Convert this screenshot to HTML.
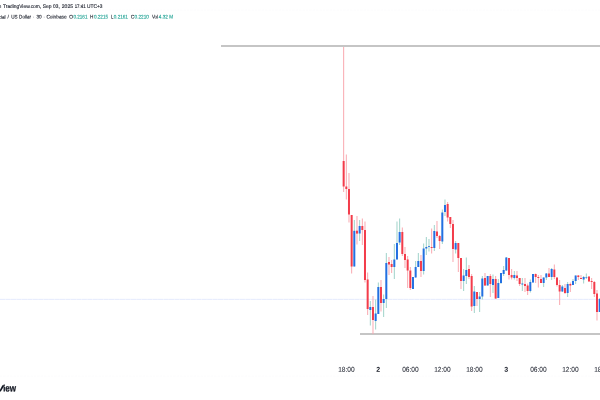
<!DOCTYPE html>
<html lang="en">
<head>
<meta charset="utf-8">
<title>World Liberty Financial / US Dollar chart</title>
<style>
html,body{margin:0;padding:0;background:#fff;}
body{width:600px;height:400px;overflow:hidden;position:relative;font-family:"Liberation Sans",sans-serif;}
svg{position:absolute;left:0;top:0;display:block;}
text{font-family:"Liberation Sans",sans-serif;}
.h{font-size:5.2px;fill:#262a35;stroke:#262a35;stroke-width:0.14px;}
.h.d{fill:#6a6d78;stroke:none;}
.h.v{fill:#23a496;stroke:#23a496;}
.ax{font-size:7px;fill:#30343f;stroke:#30343f;stroke-width:0.1px;}
.ax.b{font-weight:bold;fill:#131722;stroke:none;}
.lg2{font-size:10.0px !important;}
text{text-rendering:geometricPrecision;}
.logo{font-size:9.2px;font-weight:bold;fill:#131722;stroke:#131722;stroke-width:0.25px;}
</style>
</head>
<body>
<svg width="600" height="400" viewBox="0 0 600 400">
<rect width="600" height="400" fill="#ffffff"/>
<line x1="0" y1="10.1" x2="600" y2="10.1" stroke="#f8f8fa" stroke-width="0.6" stroke-dasharray="2 1.4"/>
<line x1="0" y1="376.1" x2="600" y2="376.1" stroke="#f8f8fa" stroke-width="0.6" stroke-dasharray="2 1.4"/>
<line x1="0" y1="299.35" x2="600" y2="299.35" stroke="#dde4fd" stroke-width="0.8" stroke-dasharray="5.2 0.25"/>
<rect x="221" y="45" width="379" height="2" fill="#c5c5c5"/>
<rect x="360" y="333" width="240" height="2" fill="#c5c5c5"/>
<rect x="343.15" y="47.0" width="1.0" height="145.0" fill="#f9a9b0"/>
<rect x="345.82" y="154.5" width="1.0" height="45.0" fill="#f9a9b0"/>
<rect x="348.48" y="173.0" width="1.0" height="49.5" fill="#f9a9b0"/>
<rect x="351.15" y="215.0" width="1.0" height="58.5" fill="#f9a9b0"/>
<rect x="353.82" y="220.0" width="1.0" height="46.5" fill="#9fd3ca"/>
<rect x="356.48" y="216.0" width="1.0" height="28.5" fill="#f9a9b0"/>
<rect x="359.15" y="220.0" width="1.0" height="21.0" fill="#9fd3ca"/>
<rect x="361.82" y="218.5" width="1.0" height="26.5" fill="#f9a9b0"/>
<rect x="364.48" y="221.5" width="1.0" height="61.0" fill="#f9a9b0"/>
<rect x="367.15" y="272.5" width="1.0" height="42.5" fill="#f9a9b0"/>
<rect x="369.82" y="301.0" width="1.0" height="24.5" fill="#9fd3ca"/>
<rect x="372.48" y="296.0" width="1.0" height="38.0" fill="#f9a9b0"/>
<rect x="375.15" y="299.5" width="1.0" height="30.0" fill="#9fd3ca"/>
<rect x="377.82" y="282.5" width="1.0" height="31.5" fill="#9fd3ca"/>
<rect x="380.48" y="280.0" width="1.0" height="31.5" fill="#f9a9b0"/>
<rect x="383.15" y="294.5" width="1.0" height="22.5" fill="#9fd3ca"/>
<rect x="385.82" y="253.0" width="1.0" height="55.0" fill="#9fd3ca"/>
<rect x="388.48" y="257.0" width="1.0" height="18.0" fill="#f9a9b0"/>
<rect x="391.15" y="260.0" width="1.0" height="13.0" fill="#f9a9b0"/>
<rect x="393.82" y="244.0" width="1.0" height="35.0" fill="#9fd3ca"/>
<rect x="396.48" y="221.5" width="1.0" height="38.0" fill="#9fd3ca"/>
<rect x="399.15" y="218.5" width="1.0" height="26.5" fill="#9fd3ca"/>
<rect x="401.82" y="227.5" width="1.0" height="28.5" fill="#f9a9b0"/>
<rect x="404.48" y="247.0" width="1.0" height="21.0" fill="#f9a9b0"/>
<rect x="407.15" y="256.0" width="1.0" height="32.0" fill="#f9a9b0"/>
<rect x="409.82" y="267.0" width="1.0" height="23.0" fill="#f9a9b0"/>
<rect x="412.48" y="277.0" width="1.0" height="12.0" fill="#9fd3ca"/>
<rect x="415.15" y="261.0" width="1.0" height="16.5" fill="#9fd3ca"/>
<rect x="417.82" y="253.0" width="1.0" height="14.0" fill="#9fd3ca"/>
<rect x="420.48" y="255.0" width="1.0" height="22.0" fill="#f9a9b0"/>
<rect x="423.15" y="243.5" width="1.0" height="31.0" fill="#9fd3ca"/>
<rect x="425.82" y="237.0" width="1.0" height="18.0" fill="#9fd3ca"/>
<rect x="428.48" y="239.0" width="1.0" height="12.5" fill="#9fd3ca"/>
<rect x="431.15" y="228.5" width="1.0" height="25.0" fill="#f9a9b0"/>
<rect x="433.82" y="225.0" width="1.0" height="26.0" fill="#9fd3ca"/>
<rect x="436.48" y="221.0" width="1.0" height="17.0" fill="#f9a9b0"/>
<rect x="439.15" y="235.0" width="1.0" height="14.0" fill="#f9a9b0"/>
<rect x="441.82" y="209.5" width="1.0" height="34.5" fill="#9fd3ca"/>
<rect x="444.48" y="199.5" width="1.0" height="16.5" fill="#9fd3ca"/>
<rect x="447.15" y="202.0" width="1.0" height="19.5" fill="#f9a9b0"/>
<rect x="449.82" y="217.0" width="1.0" height="11.0" fill="#f9a9b0"/>
<rect x="452.48" y="220.0" width="1.0" height="42.0" fill="#f9a9b0"/>
<rect x="455.15" y="241.0" width="1.0" height="12.5" fill="#9fd3ca"/>
<rect x="457.82" y="243.0" width="1.0" height="29.0" fill="#f9a9b0"/>
<rect x="460.48" y="258.0" width="1.0" height="31.0" fill="#f9a9b0"/>
<rect x="463.15" y="269.0" width="1.0" height="22.0" fill="#9fd3ca"/>
<rect x="465.82" y="257.5" width="1.0" height="26.5" fill="#9fd3ca"/>
<rect x="468.48" y="265.0" width="1.0" height="14.0" fill="#f9a9b0"/>
<rect x="471.15" y="274.0" width="1.0" height="37.0" fill="#f9a9b0"/>
<rect x="473.82" y="286.0" width="1.0" height="27.0" fill="#9fd3ca"/>
<rect x="476.49" y="292.0" width="1.0" height="14.0" fill="#f9a9b0"/>
<rect x="479.15" y="292.0" width="1.0" height="20.0" fill="#9fd3ca"/>
<rect x="481.82" y="276.0" width="1.0" height="23.5" fill="#9fd3ca"/>
<rect x="484.49" y="273.0" width="1.0" height="13.0" fill="#f9a9b0"/>
<rect x="487.15" y="276.0" width="1.0" height="9.5" fill="#9fd3ca"/>
<rect x="489.82" y="274.0" width="1.0" height="23.0" fill="#f9a9b0"/>
<rect x="492.49" y="274.5" width="1.0" height="18.5" fill="#9fd3ca"/>
<rect x="495.15" y="276.0" width="1.0" height="23.0" fill="#f9a9b0"/>
<rect x="497.82" y="279.0" width="1.0" height="19.0" fill="#9fd3ca"/>
<rect x="500.49" y="273.0" width="1.0" height="11.0" fill="#9fd3ca"/>
<rect x="503.15" y="266.0" width="1.0" height="10.0" fill="#9fd3ca"/>
<rect x="505.82" y="257.0" width="1.0" height="14.0" fill="#9fd3ca"/>
<rect x="508.49" y="258.0" width="1.0" height="21.5" fill="#f9a9b0"/>
<rect x="511.15" y="269.0" width="1.0" height="10.5" fill="#f9a9b0"/>
<rect x="513.82" y="271.0" width="1.0" height="8.5" fill="#9fd3ca"/>
<rect x="516.49" y="271.0" width="1.0" height="10.0" fill="#f9a9b0"/>
<rect x="519.15" y="278.0" width="1.0" height="8.0" fill="#f9a9b0"/>
<rect x="521.82" y="278.0" width="1.0" height="13.0" fill="#9fd3ca"/>
<rect x="524.49" y="278.0" width="1.0" height="14.0" fill="#f9a9b0"/>
<rect x="527.15" y="283.5" width="1.0" height="11.5" fill="#f9a9b0"/>
<rect x="529.82" y="279.5" width="1.0" height="13.0" fill="#9fd3ca"/>
<rect x="532.49" y="274.0" width="1.0" height="8.5" fill="#9fd3ca"/>
<rect x="535.15" y="273.5" width="1.0" height="9.5" fill="#f9a9b0"/>
<rect x="537.82" y="275.0" width="1.0" height="12.5" fill="#f9a9b0"/>
<rect x="540.49" y="275.0" width="1.0" height="8.0" fill="#f9a9b0"/>
<rect x="543.15" y="277.5" width="1.0" height="9.5" fill="#9fd3ca"/>
<rect x="545.82" y="273.0" width="1.0" height="7.0" fill="#9fd3ca"/>
<rect x="548.49" y="268.0" width="1.0" height="9.0" fill="#f9a9b0"/>
<rect x="551.15" y="268.0" width="1.0" height="12.0" fill="#9fd3ca"/>
<rect x="553.82" y="264.5" width="1.0" height="14.5" fill="#f9a9b0"/>
<rect x="556.49" y="277.5" width="1.0" height="9.0" fill="#f9a9b0"/>
<rect x="559.15" y="280.0" width="1.0" height="25.0" fill="#f9a9b0"/>
<rect x="561.82" y="285.0" width="1.0" height="7.0" fill="#9fd3ca"/>
<rect x="564.49" y="284.0" width="1.0" height="10.0" fill="#f9a9b0"/>
<rect x="567.15" y="282.0" width="1.0" height="15.0" fill="#9fd3ca"/>
<rect x="569.82" y="282.5" width="1.0" height="9.5" fill="#f9a9b0"/>
<rect x="572.49" y="279.0" width="1.0" height="6.0" fill="#9fd3ca"/>
<rect x="575.15" y="275.5" width="1.0" height="8.5" fill="#9fd3ca"/>
<rect x="577.82" y="275.0" width="1.0" height="5.0" fill="#f9a9b0"/>
<rect x="580.49" y="275.0" width="1.0" height="4.0" fill="#f9a9b0"/>
<rect x="583.15" y="276.0" width="1.0" height="7.5" fill="#9fd3ca"/>
<rect x="585.82" y="273.5" width="1.0" height="5.5" fill="#9fd3ca"/>
<rect x="588.49" y="276.5" width="1.0" height="5.0" fill="#f9a9b0"/>
<rect x="591.15" y="278.0" width="1.0" height="11.0" fill="#f9a9b0"/>
<rect x="593.82" y="281.0" width="1.0" height="16.0" fill="#f9a9b0"/>
<rect x="596.49" y="290.0" width="1.0" height="30.5" fill="#f9a9b0"/>
<rect x="599.15" y="298.0" width="1.0" height="14.0" fill="#9fd3ca"/>
<rect x="342.65" y="161.0" width="2.0" height="25.5" fill="#f33c4b"/>
<rect x="345.32" y="186.5" width="2.0" height="2.5" fill="#f33c4b"/>
<rect x="347.98" y="189.0" width="2.0" height="25.5" fill="#f33c4b"/>
<rect x="350.65" y="215.0" width="2.0" height="51.5" fill="#f33c4b"/>
<rect x="353.32" y="230.8" width="2.0" height="35.7" fill="#2370e2"/>
<rect x="355.98" y="230.7" width="2.0" height="2.9" fill="#f33c4b"/>
<rect x="358.65" y="226.0" width="2.0" height="7.5" fill="#2370e2"/>
<rect x="361.32" y="226.0" width="2.0" height="4.0" fill="#f33c4b"/>
<rect x="363.98" y="230.0" width="2.0" height="50.0" fill="#f33c4b"/>
<rect x="366.65" y="279.5" width="2.0" height="29.5" fill="#f33c4b"/>
<rect x="369.32" y="307.0" width="2.0" height="3.0" fill="#2370e2"/>
<rect x="371.98" y="307.0" width="2.0" height="13.0" fill="#f33c4b"/>
<rect x="374.65" y="313.5" width="2.0" height="7.5" fill="#2370e2"/>
<rect x="377.32" y="287.0" width="2.0" height="27.0" fill="#2370e2"/>
<rect x="379.98" y="287.0" width="2.0" height="16.0" fill="#f33c4b"/>
<rect x="382.65" y="299.0" width="2.0" height="4.0" fill="#2370e2"/>
<rect x="385.32" y="263.0" width="2.0" height="36.0" fill="#2370e2"/>
<rect x="387.98" y="262.0" width="2.0" height="2.5" fill="#f33c4b"/>
<rect x="390.65" y="264.0" width="2.0" height="3.0" fill="#f33c4b"/>
<rect x="393.32" y="259.5" width="2.0" height="7.5" fill="#2370e2"/>
<rect x="395.98" y="243.0" width="2.0" height="16.5" fill="#2370e2"/>
<rect x="398.65" y="232.0" width="2.0" height="10.5" fill="#2370e2"/>
<rect x="401.32" y="232.0" width="2.0" height="22.0" fill="#f33c4b"/>
<rect x="403.98" y="254.0" width="2.0" height="6.0" fill="#f33c4b"/>
<rect x="406.65" y="259.5" width="2.0" height="11.0" fill="#f33c4b"/>
<rect x="409.32" y="270.5" width="2.0" height="17.5" fill="#f33c4b"/>
<rect x="411.98" y="277.0" width="2.0" height="12.0" fill="#2370e2"/>
<rect x="414.65" y="267.0" width="2.0" height="10.5" fill="#2370e2"/>
<rect x="417.32" y="261.0" width="2.0" height="6.0" fill="#2370e2"/>
<rect x="419.98" y="261.0" width="2.0" height="10.0" fill="#f33c4b"/>
<rect x="422.65" y="248.5" width="2.0" height="22.5" fill="#2370e2"/>
<rect x="425.32" y="247.0" width="2.0" height="1.5" fill="#2370e2"/>
<rect x="427.98" y="246.2" width="2.0" height="0.8" fill="#2370e2"/>
<rect x="430.65" y="247.0" width="2.0" height="1.0" fill="#f33c4b"/>
<rect x="433.32" y="231.0" width="2.0" height="17.0" fill="#2370e2"/>
<rect x="435.98" y="231.5" width="2.0" height="4.5" fill="#f33c4b"/>
<rect x="438.65" y="236.0" width="2.0" height="5.0" fill="#f33c4b"/>
<rect x="441.32" y="212.5" width="2.0" height="29.0" fill="#2370e2"/>
<rect x="443.98" y="205.0" width="2.0" height="7.0" fill="#2370e2"/>
<rect x="446.65" y="204.0" width="2.0" height="13.5" fill="#f33c4b"/>
<rect x="449.32" y="217.0" width="2.0" height="7.0" fill="#f33c4b"/>
<rect x="451.98" y="224.0" width="2.0" height="25.0" fill="#f33c4b"/>
<rect x="454.65" y="243.0" width="2.0" height="6.5" fill="#2370e2"/>
<rect x="457.32" y="243.0" width="2.0" height="15.0" fill="#f33c4b"/>
<rect x="459.98" y="258.0" width="2.0" height="23.0" fill="#f33c4b"/>
<rect x="462.65" y="275.5" width="2.0" height="5.5" fill="#2370e2"/>
<rect x="465.32" y="270.0" width="2.0" height="6.0" fill="#2370e2"/>
<rect x="467.98" y="269.0" width="2.0" height="8.0" fill="#f33c4b"/>
<rect x="470.65" y="276.0" width="2.0" height="30.5" fill="#f33c4b"/>
<rect x="473.32" y="291.5" width="2.0" height="14.5" fill="#2370e2"/>
<rect x="475.99" y="292.0" width="2.0" height="7.0" fill="#f33c4b"/>
<rect x="478.65" y="296.5" width="2.0" height="2.5" fill="#2370e2"/>
<rect x="481.32" y="278.5" width="2.0" height="18.0" fill="#2370e2"/>
<rect x="483.99" y="278.0" width="2.0" height="7.5" fill="#f33c4b"/>
<rect x="486.65" y="276.0" width="2.0" height="9.5" fill="#2370e2"/>
<rect x="489.32" y="276.0" width="2.0" height="8.0" fill="#f33c4b"/>
<rect x="491.99" y="279.0" width="2.0" height="6.0" fill="#2370e2"/>
<rect x="494.65" y="279.0" width="2.0" height="19.5" fill="#f33c4b"/>
<rect x="497.32" y="283.0" width="2.0" height="15.0" fill="#2370e2"/>
<rect x="499.99" y="273.0" width="2.0" height="10.0" fill="#2370e2"/>
<rect x="502.65" y="270.0" width="2.0" height="4.0" fill="#2370e2"/>
<rect x="505.32" y="257.5" width="2.0" height="13.0" fill="#2370e2"/>
<rect x="507.99" y="258.0" width="2.0" height="17.0" fill="#f33c4b"/>
<rect x="510.65" y="275.0" width="2.0" height="2.5" fill="#f33c4b"/>
<rect x="513.32" y="275.0" width="2.0" height="3.0" fill="#2370e2"/>
<rect x="515.99" y="275.5" width="2.0" height="2.5" fill="#f33c4b"/>
<rect x="518.65" y="278.0" width="2.0" height="6.0" fill="#f33c4b"/>
<rect x="521.32" y="283.5" width="2.0" height="1.0" fill="#2370e2"/>
<rect x="523.99" y="284.0" width="2.0" height="2.0" fill="#f33c4b"/>
<rect x="526.65" y="285.5" width="2.0" height="5.5" fill="#f33c4b"/>
<rect x="529.32" y="282.0" width="2.0" height="9.0" fill="#2370e2"/>
<rect x="531.99" y="274.0" width="2.0" height="8.5" fill="#2370e2"/>
<rect x="534.65" y="274.0" width="2.0" height="3.0" fill="#f33c4b"/>
<rect x="537.32" y="277.0" width="2.0" height="1.0" fill="#f33c4b"/>
<rect x="539.99" y="279.0" width="2.0" height="4.0" fill="#f33c4b"/>
<rect x="542.65" y="277.5" width="2.0" height="5.5" fill="#2370e2"/>
<rect x="545.32" y="273.5" width="2.0" height="4.0" fill="#2370e2"/>
<rect x="547.99" y="273.5" width="2.0" height="3.5" fill="#f33c4b"/>
<rect x="550.65" y="269.0" width="2.0" height="8.0" fill="#2370e2"/>
<rect x="553.32" y="269.5" width="2.0" height="7.5" fill="#f33c4b"/>
<rect x="555.99" y="277.5" width="2.0" height="7.5" fill="#f33c4b"/>
<rect x="558.65" y="285.0" width="2.0" height="6.5" fill="#f33c4b"/>
<rect x="561.32" y="286.5" width="2.0" height="5.0" fill="#2370e2"/>
<rect x="563.99" y="288.0" width="2.0" height="5.0" fill="#f33c4b"/>
<rect x="566.65" y="284.0" width="2.0" height="9.0" fill="#2370e2"/>
<rect x="569.32" y="284.0" width="2.0" height="1.5" fill="#f33c4b"/>
<rect x="571.99" y="281.0" width="2.0" height="4.0" fill="#2370e2"/>
<rect x="574.65" y="275.5" width="2.0" height="5.5" fill="#2370e2"/>
<rect x="577.32" y="275.5" width="2.0" height="1.5" fill="#f33c4b"/>
<rect x="579.99" y="278.0" width="2.0" height="1.0" fill="#f33c4b"/>
<rect x="582.65" y="277.0" width="2.0" height="2.5" fill="#2370e2"/>
<rect x="585.32" y="277.0" width="2.0" height="0.6" fill="#2370e2"/>
<rect x="587.99" y="276.5" width="2.0" height="5.0" fill="#f33c4b"/>
<rect x="590.65" y="281.0" width="2.0" height="1.0" fill="#f33c4b"/>
<rect x="593.32" y="282.0" width="2.0" height="12.0" fill="#f33c4b"/>
<rect x="595.99" y="293.5" width="2.0" height="18.5" fill="#f33c4b"/>
<rect x="598.65" y="299.0" width="2.0" height="13.0" fill="#2370e2"/>
<text transform="translate(-35.80,8.0) rotate(0.05) scale(0.8846,1)" class="h">gzim published on</text>
<text transform="translate(3.00,8.0) rotate(0.05) scale(0.9328,1)" class="h">TradingView.com,</text>
<text transform="translate(42.80,8.0) rotate(0.05) scale(0.9530,1)" class="h">Sep</text>
<text transform="translate(53.10,8.0) rotate(0.05) scale(0.9143,1)" class="h">03,</text>
<text transform="translate(61.80,8.0) rotate(0.05) scale(0.9700,1)" class="h">2025</text>
<text transform="translate(74.70,8.0) rotate(0.05) scale(0.8395,1)" class="h">17:41</text>
<text transform="translate(87.10,8.0) rotate(0.05) scale(0.9289,1)" class="h">UTC+3</text>
<text transform="translate(-42.90,18.6) rotate(0.05) scale(0.9208,1)" class="h">World Liberty Financial</text>
<text transform="translate(7.50,18.6) rotate(0.05) scale(0.9634,1)" class="h">/</text>
<text transform="translate(11.20,18.6) rotate(0.05) scale(0.8866,1)" class="h">US</text>
<text transform="translate(19.10,18.6) rotate(0.05) scale(0.8848,1)" class="h">Dollar</text>
<text transform="translate(33.5,18.6) rotate(0.05)" text-anchor="middle" class="h d">·</text>
<text transform="translate(36.40,18.6) rotate(0.05) scale(0.8995,1)" class="h">30</text>
<text transform="translate(44.2,18.6) rotate(0.05)" text-anchor="middle" class="h d">·</text>
<text transform="translate(46.40,18.6) rotate(0.05) scale(0.9215,1)" class="h">Coinbase</text>
<text transform="translate(69.30,18.6) rotate(0.05) scale(0.9143,1)" class="h">O</text>
<text transform="translate(73.40,18.6) rotate(0.05) scale(0.8882,1)" class="h v">0.2161</text>
<text transform="translate(90.10,18.6) rotate(0.05) scale(0.9067,1)" class="h">H</text>
<text transform="translate(93.90,18.6) rotate(0.05) scale(0.8945,1)" class="h v">0.2215</text>
<text transform="translate(111.10,18.6) rotate(0.05) scale(0.8303,1)" class="h">L</text>
<text transform="translate(113.80,18.6) rotate(0.05) scale(0.8882,1)" class="h v">0.2161</text>
<text transform="translate(130.90,18.6) rotate(0.05) scale(0.8800,1)" class="h">C</text>
<text transform="translate(134.60,18.6) rotate(0.05) scale(0.9008,1)" class="h v">0.2210</text>
<text transform="translate(151.90,18.6) rotate(0.05) scale(0.8450,1)" class="h">Vol</text>
<text transform="translate(158.80,18.6) rotate(0.05) scale(0.8954,1)" class="h v">4.32 M</text>
<text transform="translate(338.20,371.8) rotate(0.05) scale(0.9412,1)" class="ax">18:00</text>
<text transform="translate(378.3,371.8) rotate(0.05)" text-anchor="middle" class="ax b">2</text>
<text transform="translate(402.20,371.8) rotate(0.05) scale(0.9412,1)" class="ax">06:00</text>
<text transform="translate(434.20,371.8) rotate(0.05) scale(0.9412,1)" class="ax">12:00</text>
<text transform="translate(466.20,371.8) rotate(0.05) scale(0.9412,1)" class="ax">18:00</text>
<text transform="translate(506.3,371.8) rotate(0.05)" text-anchor="middle" class="ax b">3</text>
<text transform="translate(530.20,371.8) rotate(0.05) scale(0.9412,1)" class="ax">06:00</text>
<text transform="translate(562.20,371.8) rotate(0.05) scale(0.9412,1)" class="ax">12:00</text>
<text transform="translate(594.20,371.8) rotate(0.05) scale(0.9412,1)" class="ax">18:00</text>
<text x="-30" y="391.4" text-anchor="end" class="logo">Trading</text>
<text transform="translate(-5.3,391.4) rotate(0.05) scale(1.62,1)" class="logo" style="stroke:none">V</text>
<text transform="translate(3.0,391.4) rotate(0.05)" class="logo" style="stroke-width:0.1px">i</text>
<text transform="translate(5.30,391.4) rotate(0.05) scale(0.8094,1)" class="logo lg2">ew</text>
</svg>
</body>
</html>
